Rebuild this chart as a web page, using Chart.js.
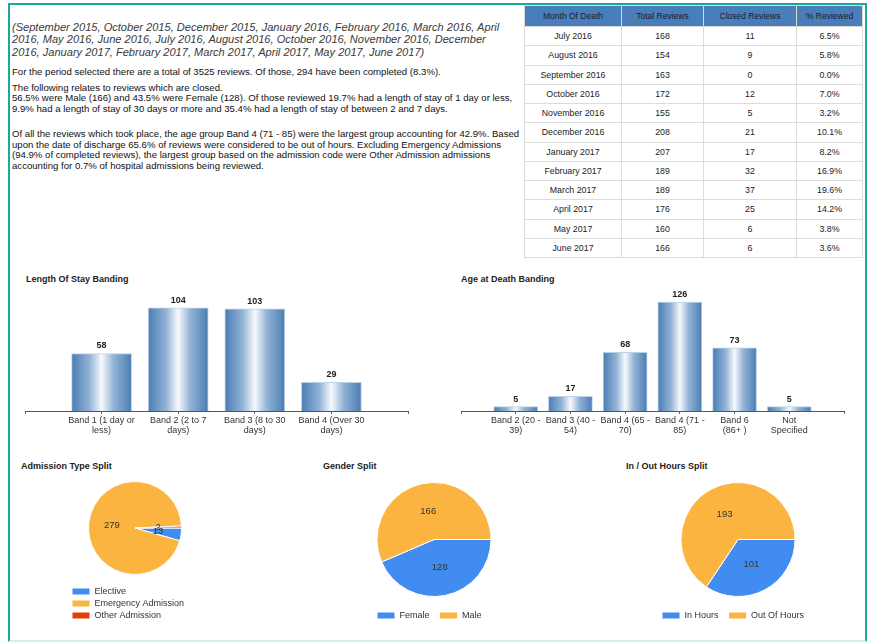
<!DOCTYPE html>
<html><head><meta charset="utf-8">
<script src="https://cdn.jsdelivr.net/npm/chart.js@4.4.0/dist/chart.umd.min.js"></script>
<style>
html,body{margin:0;padding:0;background:#fff;}
body{width:872px;height:644px;position:relative;overflow:hidden;font-family:"Liberation Sans",Arial,sans-serif;color:#222;}
#frame{position:absolute;left:8px;top:3px;width:855px;height:635px;border:2px solid #1ba99a;border-bottom:2px solid #d6eeea;}
.intro{position:absolute;left:12px;top:20.75px;font-style:italic;font-size:11.07px;line-height:12.5px;color:#3a3a3a;white-space:nowrap;}
.p{position:absolute;left:12px;font-size:9.6px;line-height:10.5px;white-space:nowrap;color:#111;}
.ttl{position:absolute;font-weight:bold;font-size:9px;line-height:10px;color:#222;white-space:nowrap;}
#tbl{position:absolute;left:524px;top:5px;width:338px;height:253px;border-collapse:collapse;table-layout:fixed;font-size:8.8px;color:#222;border:1px solid #d2d2d2;}
#tbl th{background:#4a7ebb;color:#1c1c2c;font-weight:normal;font-size:8.5px;height:20px;border:1px solid #d8d8d8;padding:0;}
#tbl td{border:1px solid #dcdcdc;text-align:center;padding:0;}
canvas{position:absolute;}
</style></head>
<body>
<div id="frame"></div>
<div class="intro">(September 2015, October 2015, December 2015, January 2016, February 2016, March 2016, April<br>2016, May 2016, June 2016, July 2016, August 2016, October 2016, November 2016, December<br>2016, January 2017, February 2017, March 2017, April 2017, May 2017, June 2017)</div>
<div class="p" style="top:66.75px">For the period selected there are a total of 3525 reviews. Of those, 294 have been completed (8.3%).</div>
<div class="p" style="top:82.75px">The following relates to reviews which are closed.<br>56.5% were Male (166) and 43.5% were Female (128). Of those reviewed 19.7% had a length of stay of 1 day or less,<br>9.9% had a length of stay of 30 days or more and 35.4% had a length of stay of between 2 and 7 days.</div>
<div class="p" style="top:129px">Of all the reviews which took place, the age group Band 4 (71 - 85) were the largest group accounting for 42.9%. Based<br>upon the date of discharge 65.6% of reviews were considered to be out of hours. Excluding Emergency Admissions<br>(94.9% of completed reviews), the largest group based on the admission code were Other Admission admissions<br>accounting for 0.7% of hospital admissions being reviewed.</div>

<table id="tbl">
<colgroup><col style="width:97px"><col style="width:82px"><col style="width:93px"><col style="width:66px"></colgroup>
<thead><tr id="hdr"></tr></thead><tbody id="tbody"></tbody></table>

<div class="ttl" style="left:26px;top:274px">Length Of Stay Banding</div>
<div class="ttl" style="left:461px;top:274px">Age at Death Banding</div>
<div class="ttl" style="left:21px;top:461px">Admission Type Split</div>
<div class="ttl" style="left:323px;top:461px">Gender Split</div>
<div class="ttl" style="left:626px;top:461px">In / Out Hours Split</div>

<canvas id="c1" width="420" height="160" style="left:12px;top:285px"></canvas>
<canvas id="c2" width="410" height="160" style="left:448px;top:285px"></canvas>
<canvas id="p1" width="132" height="158" style="left:69px;top:472px"></canvas>
<canvas id="p2" width="134" height="152" style="left:367px;top:478px"></canvas>
<canvas id="p3" width="172" height="152" style="left:652px;top:478px"></canvas>

<script>
// ---- table data ----
const tableHeaders = ['Month Of Death', 'Total Reviews', 'Closed Reviews', '% Reviewed'];
const months = ['July 2016','August 2016','September 2016','October 2016','November 2016','December 2016','January 2017','February 2017','March 2017','April 2017','May 2017','June 2017'];
const totalReviews = [168,154,163,172,155,208,207,189,189,176,160,166];
const closedReviews = [11,9,0,12,5,21,17,32,37,25,6,6];
const pctReviewed = ['6.5%','5.8%','0.0%','7.0%','3.2%','10.1%','8.2%','16.9%','19.6%','14.2%','3.8%','3.6%'];

// ---- chart data ----
const losCategories = [['Band 1 (1 day or','less)'],['Band 2 (2 to 7','days)'],['Band 3 (8 to 30','days)'],['Band 4 (Over 30','days)']];
const losValues = [58,104,103,29];
const ageCategories = [['Band 2 (20 -','39)'],['Band 3 (40 -','54)'],['Band 4 (65 -','70)'],['Band 4 (71 -','85)'],['Band 6','(86+ )'],['Not','Specified']];
const ageValues = [5,17,68,126,73,5];
const admissionLabels = ['Elective','Emergency Admission','Other Admission'];
const admissionValues = [13,279,2];
const genderLabels = ['Female','Male'];
const genderValues = [128,166];
const hoursLabels = ['In Hours','Out Of Hours'];
const hoursValues = [101,193];

// build table
const hdr = document.getElementById('hdr');
tableHeaders.forEach(h => { const th = document.createElement('th'); th.textContent = h; hdr.appendChild(th); });
const tb = document.getElementById('tbody');
months.forEach((m, i) => {
  const tr = document.createElement('tr');
  [m, totalReviews[i], closedReviews[i], pctReviewed[i]].forEach(v => {
    const td = document.createElement('td'); td.textContent = v; tr.appendChild(td);
  });
  tb.appendChild(tr);
});

const FONT = '"Liberation Sans", Arial, sans-serif';
Chart.defaults.font.family = FONT;
Chart.defaults.color = '#333';

const PIE_COLORS = ['#418CF0', '#FCB441', '#E0400A'];

function barGradient(c, thickness) {
  const chart = c.chart;
  const xs = chart.scales && chart.scales.x;
  if (!chart.chartArea || !xs) return '#4a7db3';
  const cx = xs.getPixelForValue(c.dataIndex);
  const g = chart.ctx.createLinearGradient(cx - thickness / 2, 0, cx + thickness / 2, 0);
  g.addColorStop(0, '#4a7db3');
  g.addColorStop(0.3, '#93b3d6');
  g.addColorStop(0.5, '#f7fafd');
  g.addColorStop(0.7, '#93b3d6');
  g.addColorStop(1, '#4a7db3');
  return g;
}

const barValueLabels = {
  id: 'barValueLabels',
  afterDatasetsDraw(chart) {
    const ctx = chart.ctx;
    const meta = chart.getDatasetMeta(0);
    const data = chart.data.datasets[0].data;
    ctx.save();
    ctx.font = 'bold 9px ' + FONT;
    ctx.fillStyle = '#222';
    ctx.textAlign = 'center';
    ctx.textBaseline = 'bottom';
    meta.data.forEach((el, i) => {
      if (data[i] == null) return;
      ctx.fillText(String(data[i]), el.x, el.y - 3);
    });
    ctx.restore();
  }
};

const pieValueLabels = {
  id: 'pieValueLabels',
  afterDatasetsDraw(chart) {
    const ctx = chart.ctx;
    const meta = chart.getDatasetMeta(0);
    const data = chart.data.datasets[0].data;
    ctx.save();
    ctx.font = '9.5px ' + FONT;
    ctx.fillStyle = '#333';
    ctx.textAlign = 'center';
    ctx.textBaseline = 'middle';
    meta.data.forEach((el, i) => {
      const mid = (el.startAngle + el.endAngle) / 2;
      const r = el.outerRadius * 0.5;
      ctx.fillText(String(data[i]), el.x + Math.cos(mid) * r, el.y + Math.sin(mid) * r);
    });
    ctx.restore();
  }
};

function makeBar(id, cats, vals, yMax, thickness, pad) {
  const labels = [''].concat(cats, ['']);
  const data = [null].concat(vals, [null]);
  new Chart(document.getElementById(id), {
    type: 'bar',
    data: { labels, datasets: [{
      data,
      barThickness: thickness,
      backgroundColor: c => barGradient(c, thickness),
      borderColor: '#bcd0e6',
      borderWidth: 1,
      borderSkipped: 'bottom'
    }]},
    options: {
      responsive: false, animation: false, devicePixelRatio: 1,
      layout: { padding: pad },
      plugins: { legend: { display: false }, tooltip: { enabled: false }, title: { display: false } },
      scales: {
        x: {
          offset: false,
          grid: { display: true, offset: false, drawOnChartArea: false, drawTicks: true, tickLength: 3, color: '#666' },
          border: { display: true, color: '#555', width: 1 },
          ticks: { autoSkip: false, maxRotation: 0, minRotation: 0, padding: 1, color: '#333', font: { size: 9, lineHeight: 1.12 } },
          afterFit: s => { s.height = 30; }
        },
        y: { display: false, min: 0, max: yMax }
      }
    },
    plugins: [barValueLabels]
  });
}

makeBar('c1', losCategories, losValues, 120, 60, { left: 13, right: 24, top: 7, bottom: 4 });
makeBar('c2', ageCategories, ageValues, 140, 44, { left: 13, right: 14, top: 5, bottom: 4 });

function makePie(id, labels, vals, radius, legendPad) {
  new Chart(document.getElementById(id), {
    type: 'pie',
    data: { labels, datasets: [{
      data: vals,
      backgroundColor: PIE_COLORS.slice(0, vals.length),
      borderColor: '#fff',
      borderWidth: 1,
      radius: radius
    }]},
    options: {
      responsive: false, animation: false, devicePixelRatio: 1,
      rotation: 90,
      layout: { padding: 0 },
      plugins: {
        tooltip: { enabled: false },
        legend: {
          position: 'bottom', align: 'start',
          labels: { boxWidth: 18, boxHeight: 7, padding: legendPad, color: '#333', font: { size: 9 } }
        }
      }
    },
    plugins: [pieValueLabels]
  });
}

makePie('p1', admissionLabels, admissionValues, 46.5, 3);
makePie('p2', genderLabels, genderValues, 57, 10);
makePie('p3', hoursLabels, hoursValues, 57, 10);
</script>
</body></html>
